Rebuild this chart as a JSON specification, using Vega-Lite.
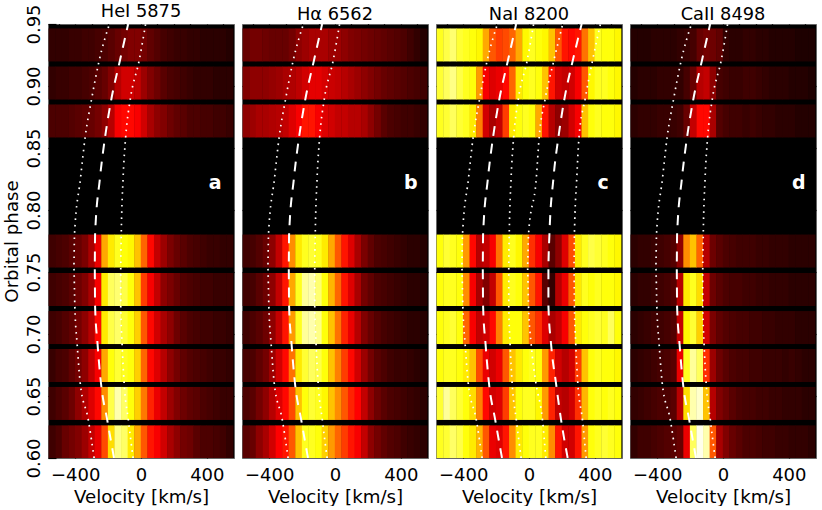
{
"$schema":"https://vega.github.io/schema/vega-lite/v6.json",
"background":"white",
"padding":{"left":1,"top":2,"right":0,"bottom":0},
"spacing":4,
"config":{"view":{"fill":"black","stroke":"#666666","strokeWidth":1},"font":"DejaVu Sans","title":{"fontSize":17.8,"fontWeight":"normal","offset":2},"axis":{"labelFont":"DejaVu Sans","titleFont":"DejaVu Sans","labelFontSize":18,"titleFontSize":18.2,"titleFontWeight":"normal","labelColor":"black","titleColor":"black","domain":false,"grid":false,"tickColor":"black","tickWidth":1.2,"zindex":1,"labelOverlap":false,"labelFlush":false,"labelBound":false}},
"datasets":{
"dash":[{"l":1,"p":0.6,"v":-164},{"l":1,"p":0.6306,"v":-205},{"l":1,"p":0.6613,"v":-244},{"l":1,"p":0.692,"v":-264},{"l":1,"p":0.7226,"v":-279},{"l":1,"p":0.754,"v":-281},{"l":1,"p":0.78,"v":-279},{"l":1,"p":0.825,"v":-250},{"l":1,"p":0.859,"v":-218},{"l":1,"p":0.8895,"v":-180},{"l":1,"p":0.92,"v":-129},{"l":1,"p":0.95,"v":-78},
{"l":2,"p":0.6,"v":235},{"l":2,"p":0.6306,"v":195},{"l":2,"p":0.6613,"v":163},{"l":2,"p":0.692,"v":134},{"l":2,"p":0.7226,"v":118},{"l":2,"p":0.754,"v":118},{"l":2,"p":0.78,"v":124},{"l":2,"p":0.825,"v":148},{"l":2,"p":0.859,"v":179},{"l":2,"p":0.8895,"v":215},{"l":2,"p":0.92,"v":265},{"l":2,"p":0.95,"v":320}],
"dot":[{"l":1,"p":0.6,"v":-285},{"l":1,"p":0.6306,"v":-320},{"l":1,"p":0.6613,"v":-370},{"l":1,"p":0.692,"v":-388},{"l":1,"p":0.7226,"v":-402},{"l":1,"p":0.754,"v":-408},{"l":1,"p":0.78,"v":-404},{"l":1,"p":0.825,"v":-368},{"l":1,"p":0.859,"v":-339},{"l":1,"p":0.8895,"v":-300},{"l":1,"p":0.92,"v":-255},{"l":1,"p":0.95,"v":-192},
{"l":2,"p":0.6,"v":-48},{"l":2,"p":0.6306,"v":-77},{"l":2,"p":0.6613,"v":-103},{"l":2,"p":0.692,"v":-115},{"l":2,"p":0.7226,"v":-123},{"l":2,"p":0.754,"v":-123},{"l":2,"p":0.78,"v":-120},{"l":2,"p":0.825,"v":-109},{"l":2,"p":0.859,"v":-93},{"l":2,"p":0.8895,"v":-65},{"l":2,"p":0.92,"v":-12},{"l":2,"p":0.95,"v":28},
{"l":3,"p":0.6,"v":102},{"l":3,"p":0.6306,"v":82},{"l":3,"p":0.6613,"v":41},{"l":3,"p":0.692,"v":13},{"l":3,"p":0.7226,"v":-3},{"l":3,"p":0.754,"v":-9},{"l":3,"p":0.78,"v":-3},{"l":3,"p":0.825,"v":44},{"l":3,"p":0.859,"v":62},{"l":3,"p":0.8895,"v":98},{"l":3,"p":0.92,"v":150},{"l":3,"p":0.95,"v":205},
{"l":4,"p":0.6,"v":347},{"l":4,"p":0.6306,"v":325},{"l":4,"p":0.6613,"v":296},{"l":4,"p":0.692,"v":284},{"l":4,"p":0.7226,"v":276},{"l":4,"p":0.754,"v":273},{"l":4,"p":0.78,"v":276},{"l":4,"p":0.825,"v":290},{"l":4,"p":0.859,"v":304},{"l":4,"p":0.8895,"v":341},{"l":4,"p":0.92,"v":385},{"l":4,"p":0.95,"v":434}],
"tags":[{"f":"a","p":0.822,"v":450,"t":"a"},{"f":"b","p":0.822,"v":460,"t":"b"},{"f":"c","p":0.822,"v":450,"t":"c"},{"f":"d","p":0.822,"v":460,"t":"d"}],
"ha":[
{"p":0.613,"v":-540,"z":8},{"p":0.613,"v":-500,"z":10},{"p":0.613,"v":-460,"z":14},{"p":0.613,"v":-420,"z":16},{"p":0.613,"v":-380,"z":18},{"p":0.613,"v":-340,"z":22},{"p":0.613,"v":-300,"z":28},{"p":0.613,"v":-260,"z":34},{"p":0.613,"v":-220,"z":48},{"p":0.613,"v":-180,"z":70},{"p":0.613,"v":-140,"z":88},{"p":0.613,"v":-100,"z":85},{"p":0.613,"v":-60,"z":72},{"p":0.613,"v":-20,"z":62},{"p":0.613,"v":20,"z":50},{"p":0.613,"v":60,"z":40},{"p":0.613,"v":100,"z":36},{"p":0.613,"v":140,"z":30},{"p":0.613,"v":180,"z":24},{"p":0.613,"v":220,"z":20},{"p":0.613,"v":260,"z":16},{"p":0.613,"v":300,"z":15},{"p":0.613,"v":340,"z":12},{"p":0.613,"v":380,"z":10},{"p":0.613,"v":420,"z":10},{"p":0.613,"v":460,"z":9},{"p":0.613,"v":500,"z":8},{"p":0.613,"v":540,"z":6},
{"p":0.644,"v":-540,"z":8},{"p":0.644,"v":-500,"z":10},{"p":0.644,"v":-460,"z":12},{"p":0.644,"v":-420,"z":15},{"p":0.644,"v":-380,"z":20},{"p":0.644,"v":-340,"z":25},{"p":0.644,"v":-300,"z":32},{"p":0.644,"v":-260,"z":38},{"p":0.644,"v":-220,"z":58},{"p":0.644,"v":-180,"z":82},{"p":0.644,"v":-140,"z":92},{"p":0.644,"v":-100,"z":85},{"p":0.644,"v":-60,"z":76},{"p":0.644,"v":-20,"z":68},{"p":0.644,"v":20,"z":55},{"p":0.644,"v":60,"z":42},{"p":0.644,"v":100,"z":34},{"p":0.644,"v":140,"z":28},{"p":0.644,"v":180,"z":22},{"p":0.644,"v":220,"z":18},{"p":0.644,"v":260,"z":15},{"p":0.644,"v":300,"z":13},{"p":0.644,"v":340,"z":12},{"p":0.644,"v":380,"z":10},{"p":0.644,"v":420,"z":9},{"p":0.644,"v":460,"z":8},{"p":0.644,"v":500,"z":7},{"p":0.644,"v":540,"z":7},
{"p":0.6746,"v":-540,"z":7},{"p":0.6746,"v":-500,"z":9},{"p":0.6746,"v":-460,"z":10},{"p":0.6746,"v":-420,"z":13},{"p":0.6746,"v":-380,"z":16},{"p":0.6746,"v":-340,"z":20},{"p":0.6746,"v":-300,"z":28},{"p":0.6746,"v":-260,"z":36},{"p":0.6746,"v":-220,"z":62},{"p":0.6746,"v":-180,"z":76},{"p":0.6746,"v":-140,"z":80},{"p":0.6746,"v":-100,"z":78},{"p":0.6746,"v":-60,"z":76},{"p":0.6746,"v":-20,"z":68},{"p":0.6746,"v":20,"z":52},{"p":0.6746,"v":60,"z":38},{"p":0.6746,"v":100,"z":32},{"p":0.6746,"v":140,"z":26},{"p":0.6746,"v":180,"z":20},{"p":0.6746,"v":220,"z":16},{"p":0.6746,"v":260,"z":13},{"p":0.6746,"v":300,"z":11},{"p":0.6746,"v":340,"z":10},{"p":0.6746,"v":380,"z":9},{"p":0.6746,"v":420,"z":8},{"p":0.6746,"v":460,"z":7},{"p":0.6746,"v":500,"z":7},{"p":0.6746,"v":540,"z":6},
{"p":0.7052,"v":-540,"z":8},{"p":0.7052,"v":-500,"z":9},{"p":0.7052,"v":-460,"z":11},{"p":0.7052,"v":-420,"z":13},{"p":0.7052,"v":-380,"z":16},{"p":0.7052,"v":-340,"z":20},{"p":0.7052,"v":-300,"z":26},{"p":0.7052,"v":-260,"z":38},{"p":0.7052,"v":-220,"z":72},{"p":0.7052,"v":-180,"z":82},{"p":0.7052,"v":-140,"z":85},{"p":0.7052,"v":-100,"z":80},{"p":0.7052,"v":-60,"z":76},{"p":0.7052,"v":-20,"z":68},{"p":0.7052,"v":20,"z":50},{"p":0.7052,"v":60,"z":38},{"p":0.7052,"v":100,"z":30},{"p":0.7052,"v":140,"z":24},{"p":0.7052,"v":180,"z":20},{"p":0.7052,"v":220,"z":15},{"p":0.7052,"v":260,"z":12},{"p":0.7052,"v":300,"z":10},{"p":0.7052,"v":340,"z":9},{"p":0.7052,"v":380,"z":8},{"p":0.7052,"v":420,"z":8},{"p":0.7052,"v":460,"z":7},{"p":0.7052,"v":500,"z":7},{"p":0.7052,"v":540,"z":6},
{"p":0.7359,"v":-540,"z":8},{"p":0.7359,"v":-500,"z":9},{"p":0.7359,"v":-460,"z":10},{"p":0.7359,"v":-420,"z":12},{"p":0.7359,"v":-380,"z":15},{"p":0.7359,"v":-340,"z":18},{"p":0.7359,"v":-300,"z":24},{"p":0.7359,"v":-260,"z":36},{"p":0.7359,"v":-220,"z":72},{"p":0.7359,"v":-180,"z":84},{"p":0.7359,"v":-140,"z":86},{"p":0.7359,"v":-100,"z":82},{"p":0.7359,"v":-60,"z":76},{"p":0.7359,"v":-20,"z":66},{"p":0.7359,"v":20,"z":46},{"p":0.7359,"v":60,"z":36},{"p":0.7359,"v":100,"z":28},{"p":0.7359,"v":140,"z":20},{"p":0.7359,"v":180,"z":17},{"p":0.7359,"v":220,"z":14},{"p":0.7359,"v":260,"z":11},{"p":0.7359,"v":300,"z":10},{"p":0.7359,"v":340,"z":9},{"p":0.7359,"v":380,"z":8},{"p":0.7359,"v":420,"z":8},{"p":0.7359,"v":460,"z":7},{"p":0.7359,"v":500,"z":7},{"p":0.7359,"v":540,"z":7},
{"p":0.7669,"v":-540,"z":8},{"p":0.7669,"v":-500,"z":9},{"p":0.7669,"v":-460,"z":10},{"p":0.7669,"v":-420,"z":12},{"p":0.7669,"v":-380,"z":14},{"p":0.7669,"v":-340,"z":17},{"p":0.7669,"v":-300,"z":24},{"p":0.7669,"v":-260,"z":34},{"p":0.7669,"v":-220,"z":62},{"p":0.7669,"v":-180,"z":72},{"p":0.7669,"v":-140,"z":78},{"p":0.7669,"v":-100,"z":76},{"p":0.7669,"v":-60,"z":74},{"p":0.7669,"v":-20,"z":66},{"p":0.7669,"v":20,"z":52},{"p":0.7669,"v":60,"z":38},{"p":0.7669,"v":100,"z":28},{"p":0.7669,"v":140,"z":22},{"p":0.7669,"v":180,"z":17},{"p":0.7669,"v":220,"z":14},{"p":0.7669,"v":260,"z":12},{"p":0.7669,"v":300,"z":10},{"p":0.7669,"v":340,"z":9},{"p":0.7669,"v":380,"z":8},{"p":0.7669,"v":420,"z":7},{"p":0.7669,"v":460,"z":7},{"p":0.7669,"v":500,"z":6},{"p":0.7669,"v":540,"z":6},
{"p":0.8718,"v":-540,"z":10},{"p":0.8718,"v":-500,"z":10},{"p":0.8718,"v":-460,"z":10},{"p":0.8718,"v":-420,"z":11},{"p":0.8718,"v":-380,"z":12},{"p":0.8718,"v":-340,"z":13},{"p":0.8718,"v":-300,"z":14},{"p":0.8718,"v":-260,"z":16},{"p":0.8718,"v":-220,"z":20},{"p":0.8718,"v":-180,"z":26},{"p":0.8718,"v":-140,"z":36},{"p":0.8718,"v":-100,"z":38},{"p":0.8718,"v":-60,"z":38},{"p":0.8718,"v":-20,"z":36},{"p":0.8718,"v":20,"z":30},{"p":0.8718,"v":60,"z":24},{"p":0.8718,"v":100,"z":20},{"p":0.8718,"v":140,"z":18},{"p":0.8718,"v":180,"z":15},{"p":0.8718,"v":220,"z":13},{"p":0.8718,"v":260,"z":12},{"p":0.8718,"v":300,"z":10},{"p":0.8718,"v":340,"z":10},{"p":0.8718,"v":380,"z":9},{"p":0.8718,"v":420,"z":9},{"p":0.8718,"v":460,"z":8},{"p":0.8718,"v":500,"z":8},{"p":0.8718,"v":540,"z":7},
{"p":0.9024,"v":-540,"z":6},{"p":0.9024,"v":-500,"z":7},{"p":0.9024,"v":-460,"z":7},{"p":0.9024,"v":-420,"z":8},{"p":0.9024,"v":-380,"z":8},{"p":0.9024,"v":-340,"z":9},{"p":0.9024,"v":-300,"z":10},{"p":0.9024,"v":-260,"z":12},{"p":0.9024,"v":-220,"z":14},{"p":0.9024,"v":-180,"z":18},{"p":0.9024,"v":-140,"z":26},{"p":0.9024,"v":-100,"z":30},{"p":0.9024,"v":-60,"z":30},{"p":0.9024,"v":-20,"z":28},{"p":0.9024,"v":20,"z":22},{"p":0.9024,"v":60,"z":18},{"p":0.9024,"v":100,"z":15},{"p":0.9024,"v":140,"z":12},{"p":0.9024,"v":180,"z":10},{"p":0.9024,"v":220,"z":9},{"p":0.9024,"v":260,"z":8},{"p":0.9024,"v":300,"z":7},{"p":0.9024,"v":340,"z":6},{"p":0.9024,"v":380,"z":6},{"p":0.9024,"v":420,"z":6},{"p":0.9024,"v":460,"z":5},{"p":0.9024,"v":500,"z":5},{"p":0.9024,"v":540,"z":5},
{"p":0.9331,"v":-540,"z":6},{"p":0.9331,"v":-500,"z":6},{"p":0.9331,"v":-460,"z":6},{"p":0.9331,"v":-420,"z":7},{"p":0.9331,"v":-380,"z":7},{"p":0.9331,"v":-340,"z":8},{"p":0.9331,"v":-300,"z":8},{"p":0.9331,"v":-260,"z":9},{"p":0.9331,"v":-220,"z":10},{"p":0.9331,"v":-180,"z":12},{"p":0.9331,"v":-140,"z":14},{"p":0.9331,"v":-100,"z":16},{"p":0.9331,"v":-60,"z":18},{"p":0.9331,"v":-20,"z":18},{"p":0.9331,"v":20,"z":16},{"p":0.9331,"v":60,"z":13},{"p":0.9331,"v":100,"z":11},{"p":0.9331,"v":140,"z":9},{"p":0.9331,"v":180,"z":8},{"p":0.9331,"v":220,"z":7},{"p":0.9331,"v":260,"z":7},{"p":0.9331,"v":300,"z":6},{"p":0.9331,"v":340,"z":6},{"p":0.9331,"v":380,"z":5},{"p":0.9331,"v":420,"z":5},{"p":0.9331,"v":460,"z":5},{"p":0.9331,"v":500,"z":5},{"p":0.9331,"v":540,"z":4}],
"hb":[
{"p":0.613,"v":-540,"z":12},{"p":0.613,"v":-500,"z":14},{"p":0.613,"v":-460,"z":20},{"p":0.613,"v":-420,"z":24},{"p":0.613,"v":-380,"z":30},{"p":0.613,"v":-340,"z":37},{"p":0.613,"v":-300,"z":40},{"p":0.613,"v":-260,"z":50},{"p":0.613,"v":-220,"z":66},{"p":0.613,"v":-180,"z":78},{"p":0.613,"v":-140,"z":78},{"p":0.613,"v":-100,"z":76},{"p":0.613,"v":-60,"z":68},{"p":0.613,"v":-20,"z":60},{"p":0.613,"v":20,"z":52},{"p":0.613,"v":60,"z":46},{"p":0.613,"v":100,"z":40},{"p":0.613,"v":140,"z":36},{"p":0.613,"v":180,"z":28},{"p":0.613,"v":220,"z":20},{"p":0.613,"v":260,"z":16},{"p":0.613,"v":300,"z":13},{"p":0.613,"v":340,"z":11},{"p":0.613,"v":380,"z":10},{"p":0.613,"v":420,"z":8},{"p":0.613,"v":460,"z":7},{"p":0.613,"v":500,"z":6},{"p":0.613,"v":540,"z":5},
{"p":0.644,"v":-540,"z":10},{"p":0.644,"v":-500,"z":12},{"p":0.644,"v":-460,"z":16},{"p":0.644,"v":-420,"z":20},{"p":0.644,"v":-380,"z":26},{"p":0.644,"v":-340,"z":32},{"p":0.644,"v":-300,"z":38},{"p":0.644,"v":-260,"z":48},{"p":0.644,"v":-220,"z":66},{"p":0.644,"v":-180,"z":76},{"p":0.644,"v":-140,"z":80},{"p":0.644,"v":-100,"z":78},{"p":0.644,"v":-60,"z":74},{"p":0.644,"v":-20,"z":66},{"p":0.644,"v":20,"z":58},{"p":0.644,"v":60,"z":50},{"p":0.644,"v":100,"z":42},{"p":0.644,"v":140,"z":37},{"p":0.644,"v":180,"z":28},{"p":0.644,"v":220,"z":20},{"p":0.644,"v":260,"z":15},{"p":0.644,"v":300,"z":12},{"p":0.644,"v":340,"z":10},{"p":0.644,"v":380,"z":9},{"p":0.644,"v":420,"z":8},{"p":0.644,"v":460,"z":7},{"p":0.644,"v":500,"z":6},{"p":0.644,"v":540,"z":5},
{"p":0.6746,"v":-540,"z":9},{"p":0.6746,"v":-500,"z":10},{"p":0.6746,"v":-460,"z":13},{"p":0.6746,"v":-420,"z":16},{"p":0.6746,"v":-380,"z":22},{"p":0.6746,"v":-340,"z":30},{"p":0.6746,"v":-300,"z":38},{"p":0.6746,"v":-260,"z":54},{"p":0.6746,"v":-220,"z":72},{"p":0.6746,"v":-180,"z":80},{"p":0.6746,"v":-140,"z":84},{"p":0.6746,"v":-100,"z":82},{"p":0.6746,"v":-60,"z":76},{"p":0.6746,"v":-20,"z":66},{"p":0.6746,"v":20,"z":56},{"p":0.6746,"v":60,"z":46},{"p":0.6746,"v":100,"z":38},{"p":0.6746,"v":140,"z":30},{"p":0.6746,"v":180,"z":22},{"p":0.6746,"v":220,"z":16},{"p":0.6746,"v":260,"z":12},{"p":0.6746,"v":300,"z":10},{"p":0.6746,"v":340,"z":8},{"p":0.6746,"v":380,"z":7},{"p":0.6746,"v":420,"z":7},{"p":0.6746,"v":460,"z":6},{"p":0.6746,"v":500,"z":5},{"p":0.6746,"v":540,"z":4},
{"p":0.7052,"v":-540,"z":8},{"p":0.7052,"v":-500,"z":10},{"p":0.7052,"v":-460,"z":12},{"p":0.7052,"v":-420,"z":15},{"p":0.7052,"v":-380,"z":20},{"p":0.7052,"v":-340,"z":28},{"p":0.7052,"v":-300,"z":40},{"p":0.7052,"v":-260,"z":60},{"p":0.7052,"v":-220,"z":78},{"p":0.7052,"v":-180,"z":90},{"p":0.7052,"v":-140,"z":92},{"p":0.7052,"v":-100,"z":88},{"p":0.7052,"v":-60,"z":76},{"p":0.7052,"v":-20,"z":66},{"p":0.7052,"v":20,"z":54},{"p":0.7052,"v":60,"z":42},{"p":0.7052,"v":100,"z":34},{"p":0.7052,"v":140,"z":26},{"p":0.7052,"v":180,"z":18},{"p":0.7052,"v":220,"z":14},{"p":0.7052,"v":260,"z":11},{"p":0.7052,"v":300,"z":9},{"p":0.7052,"v":340,"z":8},{"p":0.7052,"v":380,"z":7},{"p":0.7052,"v":420,"z":6},{"p":0.7052,"v":460,"z":5},{"p":0.7052,"v":500,"z":5},{"p":0.7052,"v":540,"z":4},
{"p":0.7359,"v":-540,"z":8},{"p":0.7359,"v":-500,"z":9},{"p":0.7359,"v":-460,"z":12},{"p":0.7359,"v":-420,"z":15},{"p":0.7359,"v":-380,"z":20},{"p":0.7359,"v":-340,"z":28},{"p":0.7359,"v":-300,"z":40},{"p":0.7359,"v":-260,"z":62},{"p":0.7359,"v":-220,"z":78},{"p":0.7359,"v":-180,"z":90},{"p":0.7359,"v":-140,"z":92},{"p":0.7359,"v":-100,"z":86},{"p":0.7359,"v":-60,"z":76},{"p":0.7359,"v":-20,"z":64},{"p":0.7359,"v":20,"z":52},{"p":0.7359,"v":60,"z":40},{"p":0.7359,"v":100,"z":32},{"p":0.7359,"v":140,"z":24},{"p":0.7359,"v":180,"z":16},{"p":0.7359,"v":220,"z":13},{"p":0.7359,"v":260,"z":10},{"p":0.7359,"v":300,"z":9},{"p":0.7359,"v":340,"z":8},{"p":0.7359,"v":380,"z":7},{"p":0.7359,"v":420,"z":6},{"p":0.7359,"v":460,"z":5},{"p":0.7359,"v":500,"z":5},{"p":0.7359,"v":540,"z":4},
{"p":0.7669,"v":-540,"z":8},{"p":0.7669,"v":-500,"z":9},{"p":0.7669,"v":-460,"z":11},{"p":0.7669,"v":-420,"z":14},{"p":0.7669,"v":-380,"z":20},{"p":0.7669,"v":-340,"z":28},{"p":0.7669,"v":-300,"z":40},{"p":0.7669,"v":-260,"z":58},{"p":0.7669,"v":-220,"z":72},{"p":0.7669,"v":-180,"z":78},{"p":0.7669,"v":-140,"z":80},{"p":0.7669,"v":-100,"z":78},{"p":0.7669,"v":-60,"z":72},{"p":0.7669,"v":-20,"z":62},{"p":0.7669,"v":20,"z":50},{"p":0.7669,"v":60,"z":40},{"p":0.7669,"v":100,"z":32},{"p":0.7669,"v":140,"z":24},{"p":0.7669,"v":180,"z":17},{"p":0.7669,"v":220,"z":13},{"p":0.7669,"v":260,"z":10},{"p":0.7669,"v":300,"z":9},{"p":0.7669,"v":340,"z":8},{"p":0.7669,"v":380,"z":7},{"p":0.7669,"v":420,"z":6},{"p":0.7669,"v":460,"z":5},{"p":0.7669,"v":500,"z":5},{"p":0.7669,"v":540,"z":4},
{"p":0.8718,"v":-540,"z":20},{"p":0.8718,"v":-500,"z":22},{"p":0.8718,"v":-460,"z":24},{"p":0.8718,"v":-420,"z":24},{"p":0.8718,"v":-380,"z":25},{"p":0.8718,"v":-340,"z":26},{"p":0.8718,"v":-300,"z":28},{"p":0.8718,"v":-260,"z":32},{"p":0.8718,"v":-220,"z":36},{"p":0.8718,"v":-180,"z":40},{"p":0.8718,"v":-140,"z":40},{"p":0.8718,"v":-100,"z":36},{"p":0.8718,"v":-60,"z":32},{"p":0.8718,"v":-20,"z":30},{"p":0.8718,"v":20,"z":28},{"p":0.8718,"v":60,"z":28},{"p":0.8718,"v":100,"z":26},{"p":0.8718,"v":140,"z":26},{"p":0.8718,"v":180,"z":24},{"p":0.8718,"v":220,"z":20},{"p":0.8718,"v":260,"z":16},{"p":0.8718,"v":300,"z":12},{"p":0.8718,"v":340,"z":10},{"p":0.8718,"v":380,"z":9},{"p":0.8718,"v":420,"z":8},{"p":0.8718,"v":460,"z":8},{"p":0.8718,"v":500,"z":7},{"p":0.8718,"v":540,"z":6},
{"p":0.9024,"v":-540,"z":18},{"p":0.9024,"v":-500,"z":20},{"p":0.9024,"v":-460,"z":20},{"p":0.9024,"v":-420,"z":20},{"p":0.9024,"v":-380,"z":21},{"p":0.9024,"v":-340,"z":22},{"p":0.9024,"v":-300,"z":24},{"p":0.9024,"v":-260,"z":25},{"p":0.9024,"v":-220,"z":27},{"p":0.9024,"v":-180,"z":30},{"p":0.9024,"v":-140,"z":33},{"p":0.9024,"v":-100,"z":33},{"p":0.9024,"v":-60,"z":31},{"p":0.9024,"v":-20,"z":29},{"p":0.9024,"v":20,"z":28},{"p":0.9024,"v":60,"z":26},{"p":0.9024,"v":100,"z":24},{"p":0.9024,"v":140,"z":22},{"p":0.9024,"v":180,"z":20},{"p":0.9024,"v":220,"z":18},{"p":0.9024,"v":260,"z":16},{"p":0.9024,"v":300,"z":14},{"p":0.9024,"v":340,"z":13},{"p":0.9024,"v":380,"z":12},{"p":0.9024,"v":420,"z":11},{"p":0.9024,"v":460,"z":10},{"p":0.9024,"v":500,"z":9},{"p":0.9024,"v":540,"z":8},
{"p":0.9331,"v":-540,"z":14},{"p":0.9331,"v":-500,"z":16},{"p":0.9331,"v":-460,"z":16},{"p":0.9331,"v":-420,"z":15},{"p":0.9331,"v":-380,"z":14},{"p":0.9331,"v":-340,"z":14},{"p":0.9331,"v":-300,"z":14},{"p":0.9331,"v":-260,"z":16},{"p":0.9331,"v":-220,"z":20},{"p":0.9331,"v":-180,"z":22},{"p":0.9331,"v":-140,"z":24},{"p":0.9331,"v":-100,"z":24},{"p":0.9331,"v":-60,"z":24},{"p":0.9331,"v":-20,"z":22},{"p":0.9331,"v":20,"z":22},{"p":0.9331,"v":60,"z":20},{"p":0.9331,"v":100,"z":18},{"p":0.9331,"v":140,"z":17},{"p":0.9331,"v":180,"z":16},{"p":0.9331,"v":220,"z":15},{"p":0.9331,"v":260,"z":14},{"p":0.9331,"v":300,"z":13},{"p":0.9331,"v":340,"z":12},{"p":0.9331,"v":380,"z":11},{"p":0.9331,"v":420,"z":10},{"p":0.9331,"v":460,"z":8},{"p":0.9331,"v":500,"z":6},{"p":0.9331,"v":540,"z":4}],
"hc":[
{"p":0.613,"v":-540,"z":78},{"p":0.613,"v":-500,"z":80},{"p":0.613,"v":-460,"z":85},{"p":0.613,"v":-420,"z":82},{"p":0.613,"v":-380,"z":76},{"p":0.613,"v":-340,"z":72},{"p":0.613,"v":-300,"z":64},{"p":0.613,"v":-260,"z":50},{"p":0.613,"v":-220,"z":34},{"p":0.613,"v":-180,"z":32},{"p":0.613,"v":-140,"z":40},{"p":0.613,"v":-100,"z":58},{"p":0.613,"v":-60,"z":72},{"p":0.613,"v":-20,"z":76},{"p":0.613,"v":20,"z":78},{"p":0.613,"v":60,"z":78},{"p":0.613,"v":100,"z":72},{"p":0.613,"v":140,"z":58},{"p":0.613,"v":180,"z":40},{"p":0.613,"v":220,"z":30},{"p":0.613,"v":260,"z":30},{"p":0.613,"v":300,"z":40},{"p":0.613,"v":340,"z":60},{"p":0.613,"v":380,"z":76},{"p":0.613,"v":420,"z":78},{"p":0.613,"v":460,"z":80},{"p":0.613,"v":500,"z":78},{"p":0.613,"v":540,"z":76},
{"p":0.644,"v":-540,"z":80},{"p":0.644,"v":-500,"z":90},{"p":0.644,"v":-460,"z":84},{"p":0.644,"v":-420,"z":80},{"p":0.644,"v":-380,"z":76},{"p":0.644,"v":-340,"z":70},{"p":0.644,"v":-300,"z":56},{"p":0.644,"v":-260,"z":38},{"p":0.644,"v":-220,"z":30},{"p":0.644,"v":-180,"z":32},{"p":0.644,"v":-140,"z":46},{"p":0.644,"v":-100,"z":66},{"p":0.644,"v":-60,"z":76},{"p":0.644,"v":-20,"z":78},{"p":0.644,"v":20,"z":78},{"p":0.644,"v":60,"z":74},{"p":0.644,"v":100,"z":60},{"p":0.644,"v":140,"z":42},{"p":0.644,"v":180,"z":28},{"p":0.644,"v":220,"z":26},{"p":0.644,"v":260,"z":30},{"p":0.644,"v":300,"z":44},{"p":0.644,"v":340,"z":64},{"p":0.644,"v":380,"z":76},{"p":0.644,"v":420,"z":78},{"p":0.644,"v":460,"z":76},{"p":0.644,"v":500,"z":78},{"p":0.644,"v":540,"z":76},
{"p":0.6746,"v":-540,"z":76},{"p":0.6746,"v":-500,"z":78},{"p":0.6746,"v":-460,"z":78},{"p":0.6746,"v":-420,"z":76},{"p":0.6746,"v":-380,"z":72},{"p":0.6746,"v":-340,"z":66},{"p":0.6746,"v":-300,"z":48},{"p":0.6746,"v":-260,"z":34},{"p":0.6746,"v":-220,"z":30},{"p":0.6746,"v":-180,"z":34},{"p":0.6746,"v":-140,"z":50},{"p":0.6746,"v":-100,"z":66},{"p":0.6746,"v":-60,"z":72},{"p":0.6746,"v":-20,"z":76},{"p":0.6746,"v":20,"z":78},{"p":0.6746,"v":60,"z":76},{"p":0.6746,"v":100,"z":60},{"p":0.6746,"v":140,"z":42},{"p":0.6746,"v":180,"z":30},{"p":0.6746,"v":220,"z":26},{"p":0.6746,"v":260,"z":30},{"p":0.6746,"v":300,"z":46},{"p":0.6746,"v":340,"z":66},{"p":0.6746,"v":380,"z":76},{"p":0.6746,"v":420,"z":78},{"p":0.6746,"v":460,"z":76},{"p":0.6746,"v":500,"z":76},{"p":0.6746,"v":540,"z":74},
{"p":0.7052,"v":-540,"z":76},{"p":0.7052,"v":-500,"z":78},{"p":0.7052,"v":-460,"z":80},{"p":0.7052,"v":-420,"z":76},{"p":0.7052,"v":-380,"z":52},{"p":0.7052,"v":-340,"z":36},{"p":0.7052,"v":-300,"z":28},{"p":0.7052,"v":-260,"z":30},{"p":0.7052,"v":-220,"z":38},{"p":0.7052,"v":-180,"z":56},{"p":0.7052,"v":-140,"z":72},{"p":0.7052,"v":-100,"z":76},{"p":0.7052,"v":-60,"z":76},{"p":0.7052,"v":-20,"z":66},{"p":0.7052,"v":20,"z":50},{"p":0.7052,"v":60,"z":44},{"p":0.7052,"v":100,"z":32},{"p":0.7052,"v":140,"z":24},{"p":0.7052,"v":180,"z":28},{"p":0.7052,"v":220,"z":36},{"p":0.7052,"v":260,"z":50},{"p":0.7052,"v":300,"z":72},{"p":0.7052,"v":340,"z":76},{"p":0.7052,"v":380,"z":78},{"p":0.7052,"v":420,"z":80},{"p":0.7052,"v":460,"z":78},{"p":0.7052,"v":500,"z":84},{"p":0.7052,"v":540,"z":76},
{"p":0.7359,"v":-540,"z":76},{"p":0.7359,"v":-500,"z":78},{"p":0.7359,"v":-460,"z":78},{"p":0.7359,"v":-420,"z":76},{"p":0.7359,"v":-380,"z":58},{"p":0.7359,"v":-340,"z":36},{"p":0.7359,"v":-300,"z":24},{"p":0.7359,"v":-260,"z":18},{"p":0.7359,"v":-220,"z":28},{"p":0.7359,"v":-180,"z":50},{"p":0.7359,"v":-140,"z":72},{"p":0.7359,"v":-100,"z":78},{"p":0.7359,"v":-60,"z":76},{"p":0.7359,"v":-20,"z":66},{"p":0.7359,"v":20,"z":50},{"p":0.7359,"v":60,"z":40},{"p":0.7359,"v":100,"z":12},{"p":0.7359,"v":140,"z":6},{"p":0.7359,"v":180,"z":26},{"p":0.7359,"v":220,"z":34},{"p":0.7359,"v":260,"z":50},{"p":0.7359,"v":300,"z":72},{"p":0.7359,"v":340,"z":78},{"p":0.7359,"v":380,"z":76},{"p":0.7359,"v":420,"z":78},{"p":0.7359,"v":460,"z":76},{"p":0.7359,"v":500,"z":76},{"p":0.7359,"v":540,"z":74},
{"p":0.7669,"v":-540,"z":76},{"p":0.7669,"v":-500,"z":80},{"p":0.7669,"v":-460,"z":78},{"p":0.7669,"v":-420,"z":76},{"p":0.7669,"v":-380,"z":60},{"p":0.7669,"v":-340,"z":38},{"p":0.7669,"v":-300,"z":26},{"p":0.7669,"v":-260,"z":28},{"p":0.7669,"v":-220,"z":36},{"p":0.7669,"v":-180,"z":54},{"p":0.7669,"v":-140,"z":72},{"p":0.7669,"v":-100,"z":78},{"p":0.7669,"v":-60,"z":74},{"p":0.7669,"v":-20,"z":62},{"p":0.7669,"v":20,"z":44},{"p":0.7669,"v":60,"z":36},{"p":0.7669,"v":100,"z":24},{"p":0.7669,"v":140,"z":12},{"p":0.7669,"v":180,"z":20},{"p":0.7669,"v":220,"z":32},{"p":0.7669,"v":260,"z":48},{"p":0.7669,"v":300,"z":72},{"p":0.7669,"v":340,"z":78},{"p":0.7669,"v":380,"z":82},{"p":0.7669,"v":420,"z":80},{"p":0.7669,"v":460,"z":78},{"p":0.7669,"v":500,"z":76},{"p":0.7669,"v":540,"z":74},
{"p":0.8718,"v":-540,"z":78},{"p":0.8718,"v":-500,"z":80},{"p":0.8718,"v":-460,"z":84},{"p":0.8718,"v":-420,"z":80},{"p":0.8718,"v":-380,"z":78},{"p":0.8718,"v":-340,"z":72},{"p":0.8718,"v":-300,"z":56},{"p":0.8718,"v":-260,"z":30},{"p":0.8718,"v":-220,"z":24},{"p":0.8718,"v":-180,"z":28},{"p":0.8718,"v":-140,"z":46},{"p":0.8718,"v":-100,"z":72},{"p":0.8718,"v":-60,"z":76},{"p":0.8718,"v":-20,"z":78},{"p":0.8718,"v":20,"z":76},{"p":0.8718,"v":60,"z":62},{"p":0.8718,"v":100,"z":40},{"p":0.8718,"v":140,"z":26},{"p":0.8718,"v":180,"z":20},{"p":0.8718,"v":220,"z":22},{"p":0.8718,"v":260,"z":30},{"p":0.8718,"v":300,"z":36},{"p":0.8718,"v":340,"z":66},{"p":0.8718,"v":380,"z":76},{"p":0.8718,"v":420,"z":78},{"p":0.8718,"v":460,"z":76},{"p":0.8718,"v":500,"z":76},{"p":0.8718,"v":540,"z":74},
{"p":0.9024,"v":-540,"z":80},{"p":0.9024,"v":-500,"z":84},{"p":0.9024,"v":-460,"z":88},{"p":0.9024,"v":-420,"z":82},{"p":0.9024,"v":-380,"z":78},{"p":0.9024,"v":-340,"z":76},{"p":0.9024,"v":-300,"z":60},{"p":0.9024,"v":-260,"z":36},{"p":0.9024,"v":-220,"z":32},{"p":0.9024,"v":-180,"z":34},{"p":0.9024,"v":-140,"z":38},{"p":0.9024,"v":-100,"z":52},{"p":0.9024,"v":-60,"z":72},{"p":0.9024,"v":-20,"z":76},{"p":0.9024,"v":20,"z":78},{"p":0.9024,"v":60,"z":76},{"p":0.9024,"v":100,"z":66},{"p":0.9024,"v":140,"z":40},{"p":0.9024,"v":180,"z":30},{"p":0.9024,"v":220,"z":28},{"p":0.9024,"v":260,"z":30},{"p":0.9024,"v":300,"z":36},{"p":0.9024,"v":340,"z":50},{"p":0.9024,"v":380,"z":74},{"p":0.9024,"v":420,"z":78},{"p":0.9024,"v":460,"z":78},{"p":0.9024,"v":500,"z":76},{"p":0.9024,"v":540,"z":74},
{"p":0.9331,"v":-540,"z":78},{"p":0.9331,"v":-500,"z":82},{"p":0.9331,"v":-460,"z":86},{"p":0.9331,"v":-420,"z":80},{"p":0.9331,"v":-380,"z":78},{"p":0.9331,"v":-340,"z":76},{"p":0.9331,"v":-300,"z":74},{"p":0.9331,"v":-260,"z":62},{"p":0.9331,"v":-220,"z":50},{"p":0.9331,"v":-180,"z":46},{"p":0.9331,"v":-140,"z":48},{"p":0.9331,"v":-100,"z":52},{"p":0.9331,"v":-60,"z":62},{"p":0.9331,"v":-20,"z":74},{"p":0.9331,"v":20,"z":78},{"p":0.9331,"v":60,"z":76},{"p":0.9331,"v":100,"z":74},{"p":0.9331,"v":140,"z":66},{"p":0.9331,"v":180,"z":50},{"p":0.9331,"v":220,"z":40},{"p":0.9331,"v":260,"z":38},{"p":0.9331,"v":300,"z":40},{"p":0.9331,"v":340,"z":54},{"p":0.9331,"v":380,"z":66},{"p":0.9331,"v":420,"z":78},{"p":0.9331,"v":460,"z":76},{"p":0.9331,"v":500,"z":76},{"p":0.9331,"v":540,"z":74}],
"hd":[
{"p":0.613,"v":-540,"z":6},{"p":0.613,"v":-500,"z":8},{"p":0.613,"v":-460,"z":8},{"p":0.613,"v":-420,"z":9},{"p":0.613,"v":-380,"z":10},{"p":0.613,"v":-340,"z":11},{"p":0.613,"v":-300,"z":12},{"p":0.613,"v":-260,"z":14},{"p":0.613,"v":-220,"z":34},{"p":0.613,"v":-180,"z":84},{"p":0.613,"v":-140,"z":98},{"p":0.613,"v":-100,"z":92},{"p":0.613,"v":-60,"z":50},{"p":0.613,"v":-20,"z":24},{"p":0.613,"v":20,"z":18},{"p":0.613,"v":60,"z":14},{"p":0.613,"v":100,"z":12},{"p":0.613,"v":140,"z":10},{"p":0.613,"v":180,"z":10},{"p":0.613,"v":220,"z":9},{"p":0.613,"v":260,"z":8},{"p":0.613,"v":300,"z":8},{"p":0.613,"v":340,"z":7},{"p":0.613,"v":380,"z":7},{"p":0.613,"v":420,"z":6},{"p":0.613,"v":460,"z":6},{"p":0.613,"v":500,"z":6},{"p":0.613,"v":540,"z":5},
{"p":0.644,"v":-540,"z":6},{"p":0.644,"v":-500,"z":7},{"p":0.644,"v":-460,"z":8},{"p":0.644,"v":-420,"z":9},{"p":0.644,"v":-380,"z":10},{"p":0.644,"v":-340,"z":10},{"p":0.644,"v":-300,"z":12},{"p":0.644,"v":-260,"z":26},{"p":0.644,"v":-220,"z":70},{"p":0.644,"v":-180,"z":92},{"p":0.644,"v":-140,"z":95},{"p":0.644,"v":-100,"z":66},{"p":0.644,"v":-60,"z":26},{"p":0.644,"v":-20,"z":18},{"p":0.644,"v":20,"z":15},{"p":0.644,"v":60,"z":12},{"p":0.644,"v":100,"z":10},{"p":0.644,"v":140,"z":9},{"p":0.644,"v":180,"z":9},{"p":0.644,"v":220,"z":8},{"p":0.644,"v":260,"z":8},{"p":0.644,"v":300,"z":7},{"p":0.644,"v":340,"z":7},{"p":0.644,"v":380,"z":6},{"p":0.644,"v":420,"z":6},{"p":0.644,"v":460,"z":6},{"p":0.644,"v":500,"z":5},{"p":0.644,"v":540,"z":5},
{"p":0.6746,"v":-540,"z":5},{"p":0.6746,"v":-500,"z":6},{"p":0.6746,"v":-460,"z":7},{"p":0.6746,"v":-420,"z":8},{"p":0.6746,"v":-380,"z":9},{"p":0.6746,"v":-340,"z":10},{"p":0.6746,"v":-300,"z":12},{"p":0.6746,"v":-260,"z":34},{"p":0.6746,"v":-220,"z":78},{"p":0.6746,"v":-180,"z":90},{"p":0.6746,"v":-140,"z":84},{"p":0.6746,"v":-100,"z":44},{"p":0.6746,"v":-60,"z":22},{"p":0.6746,"v":-20,"z":15},{"p":0.6746,"v":20,"z":12},{"p":0.6746,"v":60,"z":10},{"p":0.6746,"v":100,"z":9},{"p":0.6746,"v":140,"z":9},{"p":0.6746,"v":180,"z":8},{"p":0.6746,"v":220,"z":8},{"p":0.6746,"v":260,"z":7},{"p":0.6746,"v":300,"z":7},{"p":0.6746,"v":340,"z":7},{"p":0.6746,"v":380,"z":6},{"p":0.6746,"v":420,"z":7},{"p":0.6746,"v":460,"z":6},{"p":0.6746,"v":500,"z":5},{"p":0.6746,"v":540,"z":5},
{"p":0.7052,"v":-540,"z":5},{"p":0.7052,"v":-500,"z":6},{"p":0.7052,"v":-460,"z":7},{"p":0.7052,"v":-420,"z":8},{"p":0.7052,"v":-380,"z":8},{"p":0.7052,"v":-340,"z":9},{"p":0.7052,"v":-300,"z":11},{"p":0.7052,"v":-260,"z":28},{"p":0.7052,"v":-220,"z":74},{"p":0.7052,"v":-180,"z":80},{"p":0.7052,"v":-140,"z":68},{"p":0.7052,"v":-100,"z":30},{"p":0.7052,"v":-60,"z":17},{"p":0.7052,"v":-20,"z":13},{"p":0.7052,"v":20,"z":11},{"p":0.7052,"v":60,"z":10},{"p":0.7052,"v":100,"z":9},{"p":0.7052,"v":140,"z":9},{"p":0.7052,"v":180,"z":8},{"p":0.7052,"v":220,"z":8},{"p":0.7052,"v":260,"z":7},{"p":0.7052,"v":300,"z":7},{"p":0.7052,"v":340,"z":6},{"p":0.7052,"v":380,"z":6},{"p":0.7052,"v":420,"z":6},{"p":0.7052,"v":460,"z":5},{"p":0.7052,"v":500,"z":5},{"p":0.7052,"v":540,"z":5},
{"p":0.7359,"v":-540,"z":5},{"p":0.7359,"v":-500,"z":6},{"p":0.7359,"v":-460,"z":6},{"p":0.7359,"v":-420,"z":7},{"p":0.7359,"v":-380,"z":8},{"p":0.7359,"v":-340,"z":9},{"p":0.7359,"v":-300,"z":11},{"p":0.7359,"v":-260,"z":26},{"p":0.7359,"v":-220,"z":72},{"p":0.7359,"v":-180,"z":78},{"p":0.7359,"v":-140,"z":70},{"p":0.7359,"v":-100,"z":28},{"p":0.7359,"v":-60,"z":15},{"p":0.7359,"v":-20,"z":12},{"p":0.7359,"v":20,"z":10},{"p":0.7359,"v":60,"z":9},{"p":0.7359,"v":100,"z":9},{"p":0.7359,"v":140,"z":8},{"p":0.7359,"v":180,"z":8},{"p":0.7359,"v":220,"z":7},{"p":0.7359,"v":260,"z":7},{"p":0.7359,"v":300,"z":6},{"p":0.7359,"v":340,"z":6},{"p":0.7359,"v":380,"z":6},{"p":0.7359,"v":420,"z":5},{"p":0.7359,"v":460,"z":5},{"p":0.7359,"v":500,"z":5},{"p":0.7359,"v":540,"z":5},
{"p":0.7669,"v":-540,"z":5},{"p":0.7669,"v":-500,"z":6},{"p":0.7669,"v":-460,"z":6},{"p":0.7669,"v":-420,"z":7},{"p":0.7669,"v":-380,"z":8},{"p":0.7669,"v":-340,"z":9},{"p":0.7669,"v":-300,"z":11},{"p":0.7669,"v":-260,"z":20},{"p":0.7669,"v":-220,"z":58},{"p":0.7669,"v":-180,"z":66},{"p":0.7669,"v":-140,"z":52},{"p":0.7669,"v":-100,"z":26},{"p":0.7669,"v":-60,"z":15},{"p":0.7669,"v":-20,"z":12},{"p":0.7669,"v":20,"z":10},{"p":0.7669,"v":60,"z":9},{"p":0.7669,"v":100,"z":8},{"p":0.7669,"v":140,"z":8},{"p":0.7669,"v":180,"z":8},{"p":0.7669,"v":220,"z":7},{"p":0.7669,"v":260,"z":7},{"p":0.7669,"v":300,"z":6},{"p":0.7669,"v":340,"z":6},{"p":0.7669,"v":380,"z":6},{"p":0.7669,"v":420,"z":5},{"p":0.7669,"v":460,"z":5},{"p":0.7669,"v":500,"z":5},{"p":0.7669,"v":540,"z":5},
{"p":0.8718,"v":-540,"z":5},{"p":0.8718,"v":-500,"z":6},{"p":0.8718,"v":-460,"z":6},{"p":0.8718,"v":-420,"z":6},{"p":0.8718,"v":-380,"z":7},{"p":0.8718,"v":-340,"z":7},{"p":0.8718,"v":-300,"z":7},{"p":0.8718,"v":-260,"z":8},{"p":0.8718,"v":-220,"z":14},{"p":0.8718,"v":-180,"z":28},{"p":0.8718,"v":-140,"z":38},{"p":0.8718,"v":-100,"z":38},{"p":0.8718,"v":-60,"z":24},{"p":0.8718,"v":-20,"z":11},{"p":0.8718,"v":20,"z":9},{"p":0.8718,"v":60,"z":8},{"p":0.8718,"v":100,"z":8},{"p":0.8718,"v":140,"z":7},{"p":0.8718,"v":180,"z":8},{"p":0.8718,"v":220,"z":7},{"p":0.8718,"v":260,"z":6},{"p":0.8718,"v":300,"z":6},{"p":0.8718,"v":340,"z":5},{"p":0.8718,"v":380,"z":5},{"p":0.8718,"v":420,"z":5},{"p":0.8718,"v":460,"z":4},{"p":0.8718,"v":500,"z":4},{"p":0.8718,"v":540,"z":4},
{"p":0.9024,"v":-540,"z":4},{"p":0.9024,"v":-500,"z":5},{"p":0.9024,"v":-460,"z":5},{"p":0.9024,"v":-420,"z":5},{"p":0.9024,"v":-380,"z":6},{"p":0.9024,"v":-340,"z":6},{"p":0.9024,"v":-300,"z":6},{"p":0.9024,"v":-260,"z":6},{"p":0.9024,"v":-220,"z":9},{"p":0.9024,"v":-180,"z":14},{"p":0.9024,"v":-140,"z":26},{"p":0.9024,"v":-100,"z":28},{"p":0.9024,"v":-60,"z":20},{"p":0.9024,"v":-20,"z":9},{"p":0.9024,"v":20,"z":8},{"p":0.9024,"v":60,"z":7},{"p":0.9024,"v":100,"z":7},{"p":0.9024,"v":140,"z":8},{"p":0.9024,"v":180,"z":8},{"p":0.9024,"v":220,"z":7},{"p":0.9024,"v":260,"z":6},{"p":0.9024,"v":300,"z":5},{"p":0.9024,"v":340,"z":5},{"p":0.9024,"v":380,"z":5},{"p":0.9024,"v":420,"z":4},{"p":0.9024,"v":460,"z":4},{"p":0.9024,"v":500,"z":4},{"p":0.9024,"v":540,"z":3},
{"p":0.9331,"v":-540,"z":4},{"p":0.9331,"v":-500,"z":4},{"p":0.9331,"v":-460,"z":4},{"p":0.9331,"v":-420,"z":5},{"p":0.9331,"v":-380,"z":5},{"p":0.9331,"v":-340,"z":5},{"p":0.9331,"v":-300,"z":5},{"p":0.9331,"v":-260,"z":6},{"p":0.9331,"v":-220,"z":7},{"p":0.9331,"v":-180,"z":9},{"p":0.9331,"v":-140,"z":14},{"p":0.9331,"v":-100,"z":16},{"p":0.9331,"v":-60,"z":15},{"p":0.9331,"v":-20,"z":13},{"p":0.9331,"v":20,"z":6},{"p":0.9331,"v":60,"z":5},{"p":0.9331,"v":100,"z":5},{"p":0.9331,"v":140,"z":6},{"p":0.9331,"v":180,"z":6},{"p":0.9331,"v":220,"z":5},{"p":0.9331,"v":260,"z":5},{"p":0.9331,"v":300,"z":4},{"p":0.9331,"v":340,"z":4},{"p":0.9331,"v":380,"z":4},{"p":0.9331,"v":420,"z":4},{"p":0.9331,"v":460,"z":3},{"p":0.9331,"v":500,"z":3},{"p":0.9331,"v":540,"z":3}]
},
"hconcat":[
{"title":{"text":"HeI 5875","dy":19},"width":186,"height":434,"resolve":{"axis":{"x":"independent","y":"independent"}},"layer":[
{"data":{"name":"ha"},"mark":{"type":"rect","width":7,"height":33,"clip":true},"encoding":{
"x":{"field":"v","type":"quantitative","scale":{"domain":[-565,565],"nice":false},"axis":{"values":[-400,0,400],"tickSize":-7,"labelPadding":15,"titlePadding":4,"title":"Velocity [km/s]"}},
"y":{"field":"p","type":"quantitative","scale":{"domain":[0.6,0.95],"nice":false},"axis":{"values":[0.6,0.65,0.7,0.75,0.8,0.85,0.9,0.95],"format":".2f","tickSize":-8,"labelAngle":270,"labelAlign":"center","labelBaseline":"bottom","labelPadding":13,"titlePadding":4,"title":"Orbital phase"}},
"color":{"field":"z","type":"quantitative","legend":null,"scale":{"domain":[0,37,75,100],"range":["#0a0000","#ff0000","#ffff00","#ffffff"],"interpolate":"rgb"}}}},
{"data":{"name":"dash"},"transform":[{"filter":{"field":"l","equal":1}}],"mark":{"type":"line","color":"white","strokeWidth":2,"strokeDash":[10,8],"interpolate":"monotone","clip":true},"encoding":{
"x":{"field":"v","type":"quantitative","axis":{"values":[-500,-300,-200,-100,100,200,300,500],"tickSize":-4,"labels":false,"title":null}},
"y":{"field":"p","type":"quantitative","axis":{"orient":"right","values":[0.65,0.7,0.75,0.8,0.85,0.9],"tickSize":-8,"labels":false,"title":null}},
"detail":{"field":"l"},"order":{"field":"p"}}},
{"data":{"name":"dot"},"transform":[{"filter":{"field":"l","range":[1,2]}}],"mark":{"type":"line","color":"white","strokeWidth":1.7,"strokeDash":[1.6,4.7],"interpolate":"monotone","clip":true},"encoding":{
"x":{"field":"v","type":"quantitative","axis":{"orient":"top","values":[-400,0,400],"tickSize":-7,"labels":false,"title":null}},
"y":{"field":"p","type":"quantitative","axis":null},
"detail":{"field":"l"},"order":{"field":"p"}}},
{"data":{"name":"tags"},"transform":[{"filter":{"field":"f","equal":"a"}}],"mark":{"type":"text","color":"white","fontWeight":"bold","fontSize":19},"encoding":{
"x":{"field":"v","type":"quantitative","axis":{"orient":"top","values":[-500,-300,-200,-100,100,200,300,500],"tickSize":-4,"labels":false,"title":null}},
"y":{"field":"p","type":"quantitative","axis":null},
"text":{"field":"t"}}}
]},
{"title":{"text":"Hα 6562","dy":2},"width":186,"height":434,"resolve":{"axis":{"x":"independent","y":"independent"}},"layer":[
{"data":{"name":"hb"},"mark":{"type":"rect","width":7,"height":33,"clip":true},"encoding":{
"x":{"field":"v","type":"quantitative","scale":{"domain":[-565,565],"nice":false},"axis":{"values":[-400,0,400],"tickSize":-7,"labelPadding":15,"titlePadding":4,"title":"Velocity [km/s]"}},
"y":{"field":"p","type":"quantitative","scale":{"domain":[0.6,0.95],"nice":false},"axis":{"values":[0.65,0.7,0.75,0.8,0.85,0.9],"tickSize":-8,"labels":false,"title":null}},
"color":{"field":"z","type":"quantitative","legend":null,"scale":{"domain":[0,37,75,100],"range":["#0a0000","#ff0000","#ffff00","#ffffff"],"interpolate":"rgb"}}}},
{"data":{"name":"dash"},"transform":[{"filter":{"field":"l","equal":1}}],"mark":{"type":"line","color":"white","strokeWidth":2,"strokeDash":[10,8],"interpolate":"monotone","clip":true},"encoding":{
"x":{"field":"v","type":"quantitative","axis":{"values":[-500,-300,-200,-100,100,200,300,500],"tickSize":-4,"labels":false,"title":null}},
"y":{"field":"p","type":"quantitative","axis":{"orient":"right","values":[0.65,0.7,0.75,0.8,0.85,0.9],"tickSize":-8,"labels":false,"title":null}},
"detail":{"field":"l"},"order":{"field":"p"}}},
{"data":{"name":"dot"},"transform":[{"filter":{"field":"l","range":[1,2]}}],"mark":{"type":"line","color":"white","strokeWidth":1.7,"strokeDash":[1.6,4.7],"interpolate":"monotone","clip":true},"encoding":{
"x":{"field":"v","type":"quantitative","axis":{"orient":"top","values":[-400,0,400],"tickSize":-7,"labels":false,"title":null}},
"y":{"field":"p","type":"quantitative","axis":null},
"detail":{"field":"l"},"order":{"field":"p"}}},
{"data":{"name":"tags"},"transform":[{"filter":{"field":"f","equal":"b"}}],"mark":{"type":"text","color":"white","fontWeight":"bold","fontSize":19},"encoding":{
"x":{"field":"v","type":"quantitative","axis":{"orient":"top","values":[-500,-300,-200,-100,100,200,300,500],"tickSize":-4,"labels":false,"title":null}},
"y":{"field":"p","type":"quantitative","axis":null},
"text":{"field":"t"}}}
]},
{"title":{"text":"NaI 8200","dy":2},"width":186,"height":434,"resolve":{"axis":{"x":"independent","y":"independent"}},"layer":[
{"data":{"name":"hc"},"mark":{"type":"rect","width":7,"height":33,"clip":true},"encoding":{
"x":{"field":"v","type":"quantitative","scale":{"domain":[-565,565],"nice":false},"axis":{"values":[-400,0,400],"tickSize":-7,"labelPadding":15,"titlePadding":4,"title":"Velocity [km/s]"}},
"y":{"field":"p","type":"quantitative","scale":{"domain":[0.6,0.95],"nice":false},"axis":{"values":[0.65,0.7,0.75,0.8,0.85,0.9],"tickSize":-8,"labels":false,"title":null}},
"color":{"field":"z","type":"quantitative","legend":null,"scale":{"domain":[0,37,75,100],"range":["#0a0000","#ff0000","#ffff00","#ffffff"],"interpolate":"rgb"}}}},
{"data":{"name":"dash"},"mark":{"type":"line","color":"white","strokeWidth":2,"strokeDash":[10,8],"interpolate":"monotone","clip":true},"encoding":{
"x":{"field":"v","type":"quantitative","axis":{"values":[-500,-300,-200,-100,100,200,300,500],"tickSize":-4,"labels":false,"title":null}},
"y":{"field":"p","type":"quantitative","axis":{"orient":"right","values":[0.65,0.7,0.75,0.8,0.85,0.9],"tickSize":-8,"labels":false,"title":null}},
"detail":{"field":"l"},"order":{"field":"p"}}},
{"data":{"name":"dot"},"mark":{"type":"line","color":"white","strokeWidth":1.7,"strokeDash":[1.6,4.7],"interpolate":"monotone","clip":true},"encoding":{
"x":{"field":"v","type":"quantitative","axis":{"orient":"top","values":[-400,0,400],"tickSize":-7,"labels":false,"title":null}},
"y":{"field":"p","type":"quantitative","axis":null},
"detail":{"field":"l"},"order":{"field":"p"}}},
{"data":{"name":"tags"},"transform":[{"filter":{"field":"f","equal":"c"}}],"mark":{"type":"text","color":"white","fontWeight":"bold","fontSize":19},"encoding":{
"x":{"field":"v","type":"quantitative","axis":{"orient":"top","values":[-500,-300,-200,-100,100,200,300,500],"tickSize":-4,"labels":false,"title":null}},
"y":{"field":"p","type":"quantitative","axis":null},
"text":{"field":"t"}}}
]},
{"title":{"text":"CaII 8498","dy":2},"width":186,"height":434,"resolve":{"axis":{"x":"independent","y":"independent"}},"layer":[
{"data":{"name":"hd"},"mark":{"type":"rect","width":7,"height":33,"clip":true},"encoding":{
"x":{"field":"v","type":"quantitative","scale":{"domain":[-565,565],"nice":false},"axis":{"values":[-400,0,400],"tickSize":-7,"labelPadding":15,"titlePadding":4,"title":"Velocity [km/s]"}},
"y":{"field":"p","type":"quantitative","scale":{"domain":[0.6,0.95],"nice":false},"axis":{"values":[0.65,0.7,0.75,0.8,0.85,0.9],"tickSize":-8,"labels":false,"title":null}},
"color":{"field":"z","type":"quantitative","legend":null,"scale":{"domain":[0,37,75,100],"range":["#0a0000","#ff0000","#ffff00","#ffffff"],"interpolate":"rgb"}}}},
{"data":{"name":"dash"},"transform":[{"filter":{"field":"l","equal":1}}],"mark":{"type":"line","color":"white","strokeWidth":2,"strokeDash":[10,8],"interpolate":"monotone","clip":true},"encoding":{
"x":{"field":"v","type":"quantitative","axis":{"values":[-500,-300,-200,-100,100,200,300,500],"tickSize":-4,"labels":false,"title":null}},
"y":{"field":"p","type":"quantitative","axis":{"orient":"right","values":[0.65,0.7,0.75,0.8,0.85,0.9],"tickSize":-8,"labels":false,"title":null}},
"detail":{"field":"l"},"order":{"field":"p"}}},
{"data":{"name":"dot"},"transform":[{"filter":{"field":"l","range":[1,2]}}],"mark":{"type":"line","color":"white","strokeWidth":1.7,"strokeDash":[1.6,4.7],"interpolate":"monotone","clip":true},"encoding":{
"x":{"field":"v","type":"quantitative","axis":{"orient":"top","values":[-400,0,400],"tickSize":-7,"labels":false,"title":null}},
"y":{"field":"p","type":"quantitative","axis":null},
"detail":{"field":"l"},"order":{"field":"p"}}},
{"data":{"name":"tags"},"transform":[{"filter":{"field":"f","equal":"d"}}],"mark":{"type":"text","color":"white","fontWeight":"bold","fontSize":19},"encoding":{
"x":{"field":"v","type":"quantitative","axis":{"orient":"top","values":[-500,-300,-200,-100,100,200,300,500],"tickSize":-4,"labels":false,"title":null}},
"y":{"field":"p","type":"quantitative","axis":null},
"text":{"field":"t"}}}
]}
]
}
